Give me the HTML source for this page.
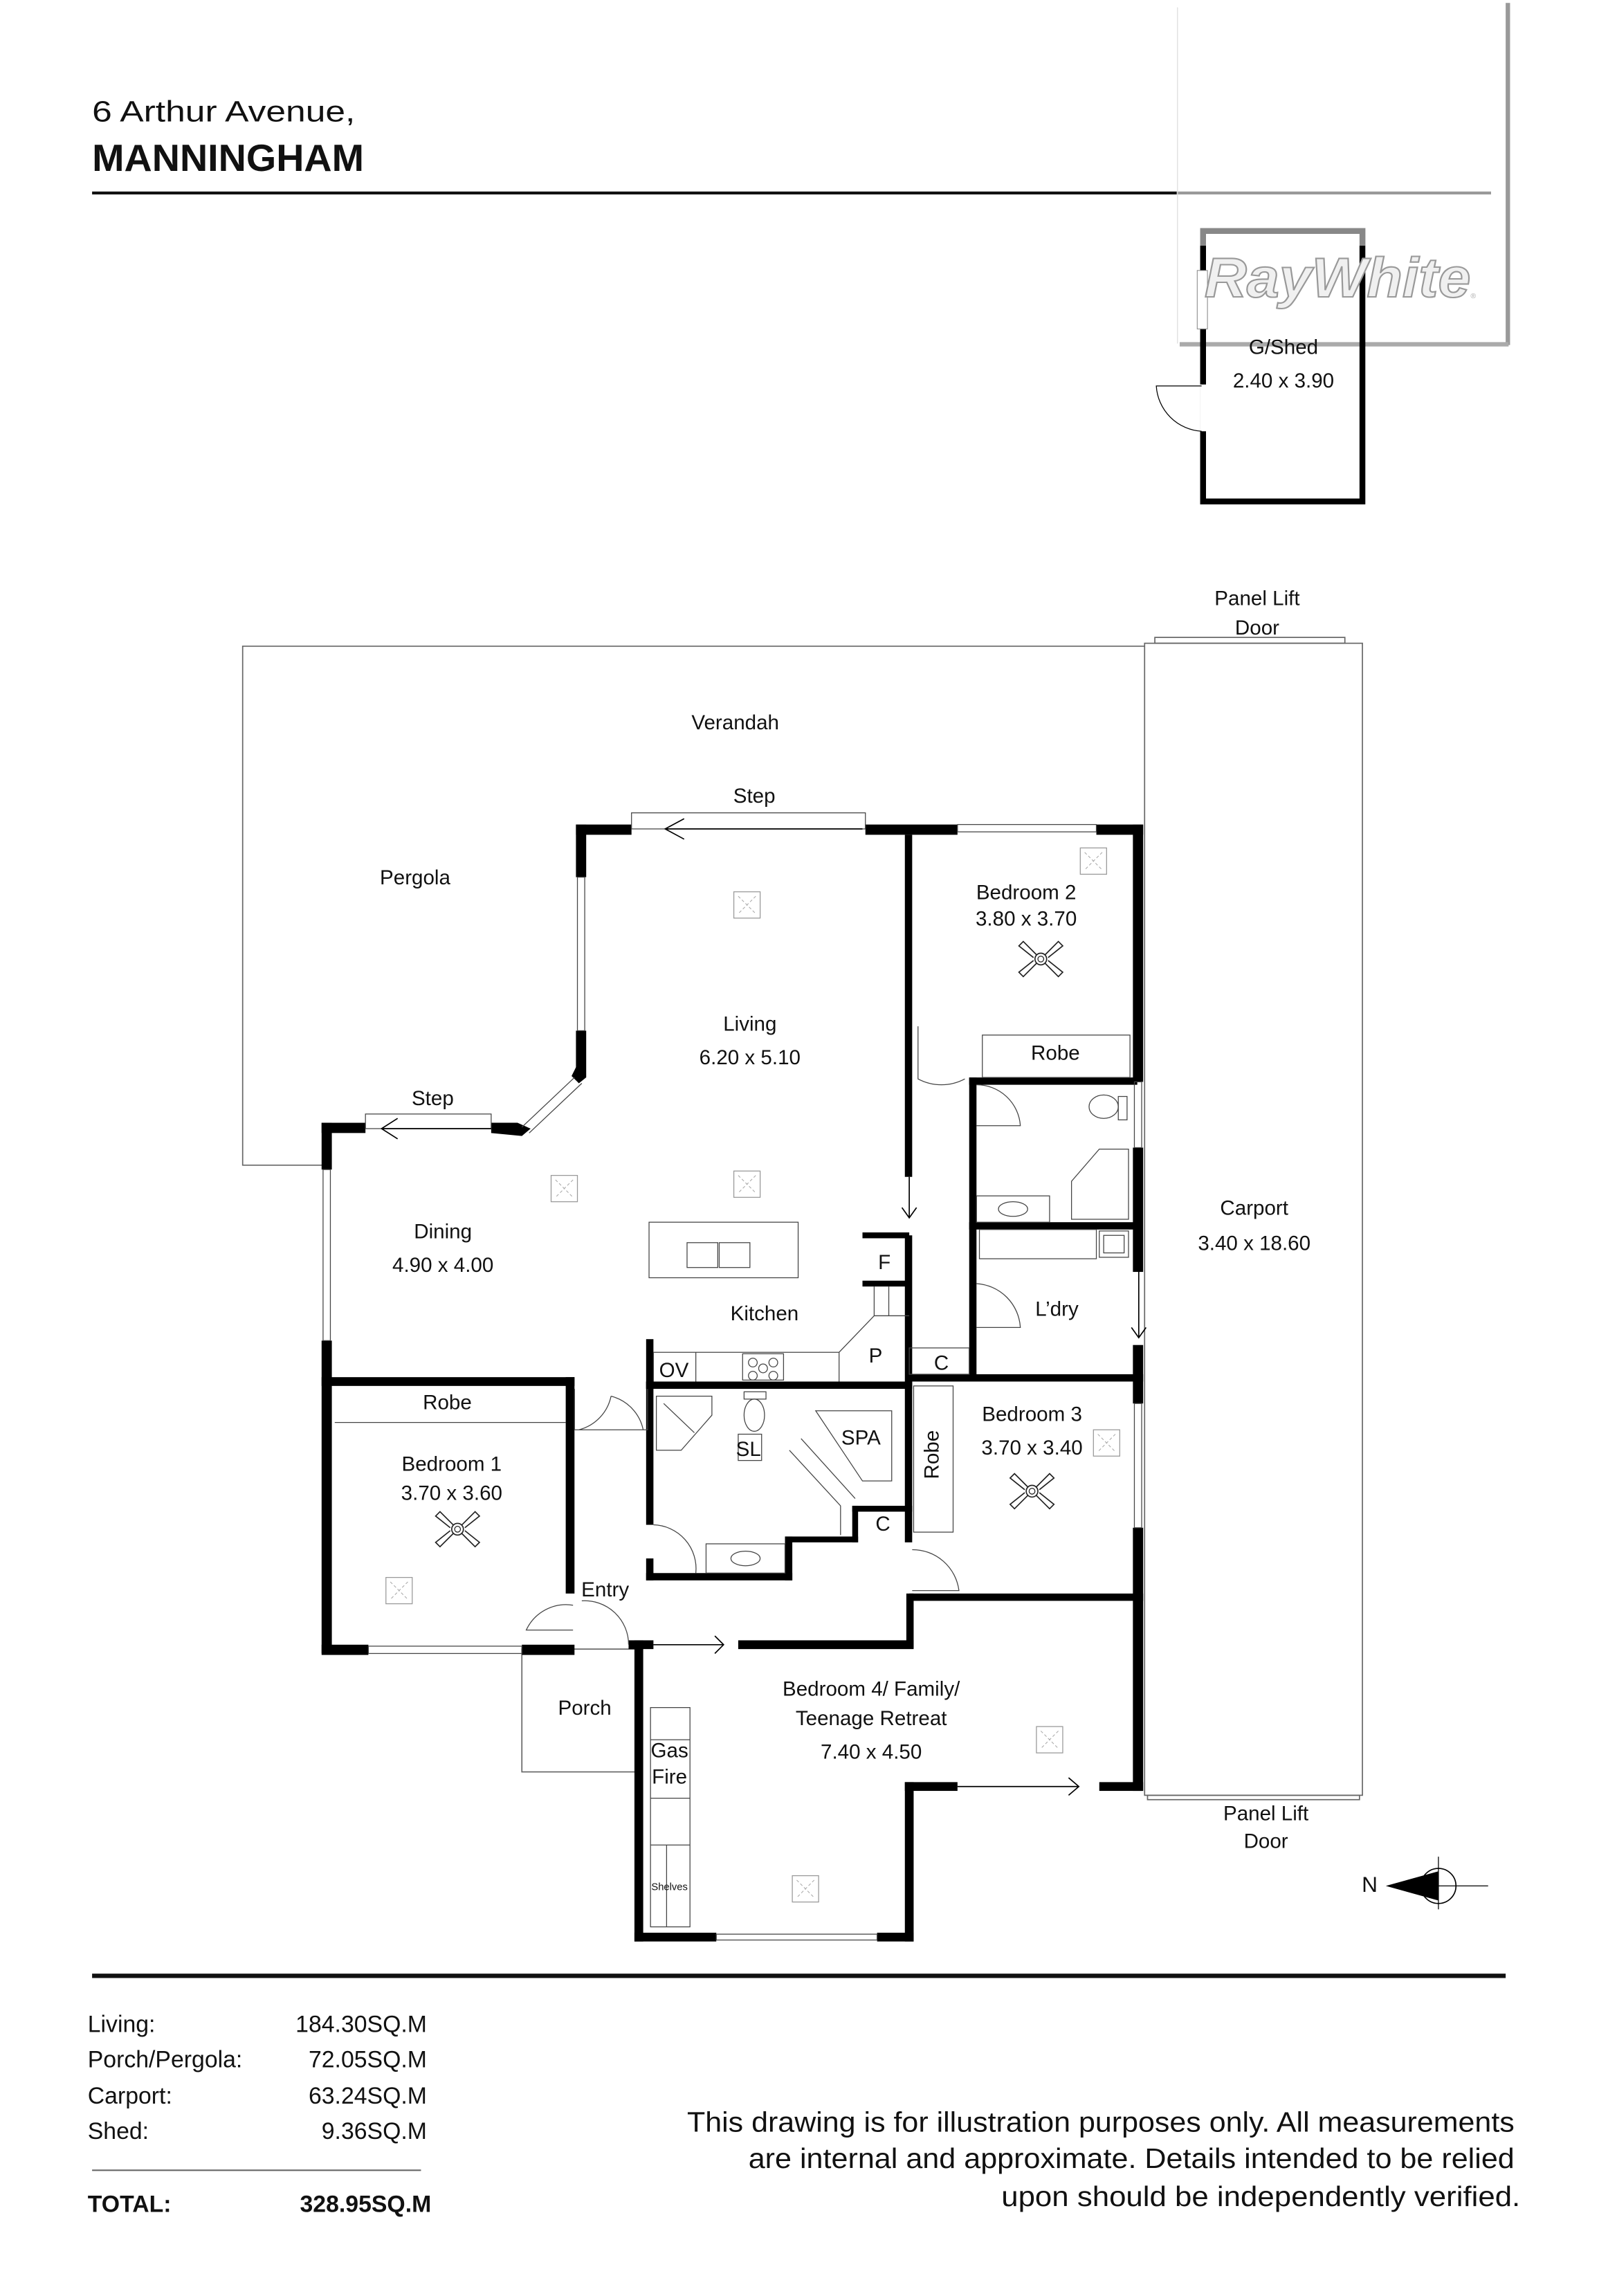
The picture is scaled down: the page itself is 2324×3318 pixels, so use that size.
<!DOCTYPE html>
<html><head><meta charset="utf-8"><style>
html,body{margin:0;padding:0;background:#fff;}
svg{display:block;}
text{font-family:"Liberation Sans",sans-serif;fill:#111;}
</style></head><body>
<svg width="2324" height="3318" viewBox="0 0 1100 1570.5" preserveAspectRatio="none" xmlns="http://www.w3.org/2000/svg">
<defs>
<g id="lt"><rect x="-9" y="-9" width="18" height="18" fill="none" stroke="#999" stroke-width="0.6"/><path d="M-6,-6L6,6M6,-6L-6,6" stroke="#aaa" stroke-width="0.5" stroke-dasharray="2,1.5"/></g>
<g id="fan"><circle r="4" fill="none" stroke="#222" stroke-width="0.8"/><circle r="2" fill="none" stroke="#222" stroke-width="0.6"/>
<g fill="none" stroke="#222" stroke-width="0.8"><path d="M3,-3L12,-12L15,-9L5,-1"/><path d="M-3,-3L-12,-12L-15,-9L-5,-1"/><path d="M3,3L12,12L15,9L5,1"/><path d="M-3,3L-12,12L-15,9L-5,1"/></g></g>
</defs>
<rect width="1100" height="1570.5" fill="#fff"/>
<!-- header -->
<text x="63" y="83" font-size="20" textLength="180" lengthAdjust="spacingAndGlyphs">6 Arthur Avenue,</text>
<text x="63" y="117" font-size="26" font-weight="bold" textLength="186" lengthAdjust="spacingAndGlyphs">MANNINGHAM</text>
<rect x="63" y="131" width="742" height="2" fill="#111"/>
<rect x="805" y="131" width="215" height="2" fill="#999"/>
<!-- logo box -->
<line x1="805.5" y1="5" x2="805.5" y2="235" stroke="#ddd" stroke-width="0.6"/>
<rect x="1030" y="2" width="3" height="234" fill="#999"/>
<rect x="807" y="234" width="225" height="3" fill="#aaa"/>
<!-- shed -->
<rect x="823" y="158" width="109" height="185" fill="none" stroke="#000" stroke-width="4"/>
<rect x="821" y="156" width="113" height="12" fill="#fff"/>
<path d="M823,168V158H932V168" fill="none" stroke="#888" stroke-width="4"/>
<rect x="821" y="263" width="5" height="32" fill="#fff"/>
<path d="M822,264H791A33,33 0 0 0 822,295" fill="none" stroke="#000" stroke-width="0.6"/>
<rect x="819" y="185" width="7" height="40" fill="#fff" stroke="#888" stroke-width="0.5"/>
<text x="824" y="203" font-size="38" font-style="italic" font-weight="bold" stroke="#999" stroke-width="1" style="fill:#f0f0f0" textLength="182" lengthAdjust="spacingAndGlyphs">RayWhite</text>
<text x="1006" y="204" font-size="5" style="fill:#aaa">®</text>
<text x="878" y="242" font-size="14" text-anchor="middle">G/Shed</text>
<text x="878" y="265" font-size="14" text-anchor="middle">2.40 x 3.90</text>
<!-- outer thin outlines -->
<g fill="none" stroke="#666" stroke-width="0.8">
<path d="M222,797H166V442H783"/>
<rect x="783" y="440" width="149" height="788"/>
<rect x="790" y="436" width="130" height="4"/>
<rect x="785" y="1228" width="145" height="3"/>
<rect x="357" y="1128" width="80" height="84"/>
</g>
<text x="860" y="414" font-size="14" text-anchor="middle">Panel Lift</text>
<text x="860" y="434" font-size="14" text-anchor="middle">Door</text>
<text x="866" y="1245" font-size="14" text-anchor="middle">Panel Lift</text>
<text x="866" y="1264" font-size="14" text-anchor="middle">Door</text>
<text x="503" y="499" font-size="14" text-anchor="middle">Verandah</text>
<text x="284" y="605" font-size="14" text-anchor="middle">Pergola</text>
<text x="516" y="549" font-size="14" text-anchor="middle">Step</text>
<text x="296" y="756" font-size="14" text-anchor="middle">Step</text>
<text x="858" y="831" font-size="14" text-anchor="middle">Carport</text>
<text x="858" y="855" font-size="14" text-anchor="middle">3.40 x 18.60</text>
<!-- thick walls -->
<g fill="#000">
<rect x="394" y="564" width="38" height="7"/>
<rect x="394" y="564" width="7" height="36"/>
<rect x="394" y="705" width="7" height="29"/>
<polygon points="394,730 401,734 401,737 396,741 391,736"/>
<polygon points="336,768 354,768 363,772 357,777 336,775"/>
<rect x="592" y="564" width="63" height="7"/>
<rect x="750" y="564" width="32" height="7"/>
<rect x="775" y="564" width="7" height="176"/>
<rect x="775" y="785" width="7" height="85"/>
<rect x="775" y="920" width="7" height="40"/>
<rect x="775" y="1045" width="7" height="180"/>
<rect x="220" y="768" width="30" height="7"/>
<rect x="220" y="768" width="7" height="32"/>
<rect x="220" y="917" width="7" height="214"/>
<rect x="220" y="942" width="173" height="6"/>
<rect x="387" y="942" width="6" height="148"/>
<rect x="220" y="1125" width="32" height="7"/>
<rect x="357" y="1125" width="36" height="7"/>
<rect x="619" y="571" width="5" height="234"/>
<rect x="619" y="845" width="5" height="210"/>
<rect x="590" y="843" width="32" height="4"/>
<rect x="590" y="876" width="32" height="4"/>
<rect x="442" y="916" width="5" height="34"/>
<rect x="442" y="945" width="182" height="5"/>
<rect x="442" y="945" width="5" height="98"/>
<rect x="442" y="1066" width="5" height="15"/>
<rect x="442" y="1076" width="100" height="5"/>
<rect x="537" y="1051" width="5" height="30"/>
<rect x="537" y="1051" width="50" height="4"/>
<rect x="583" y="1030" width="4" height="25"/>
<rect x="583" y="1030" width="41" height="4"/>
<rect x="663" y="737" width="5" height="205"/>
<rect x="663" y="737" width="115" height="5"/>
<rect x="663" y="836" width="115" height="5"/>
<rect x="622" y="940" width="160" height="5"/>
<rect x="622" y="1090" width="160" height="5"/>
<rect x="620" y="1090" width="5" height="37"/>
<rect x="505" y="1122" width="120" height="6"/>
<rect x="430" y="1122" width="17" height="6"/>
<rect x="434" y="1122" width="6" height="206"/>
<rect x="434" y="1322" width="56" height="6"/>
<rect x="600" y="1322" width="25" height="6"/>
<rect x="619" y="1219" width="6" height="109"/>
<rect x="619" y="1219" width="36" height="6"/>
<rect x="752" y="1219" width="30" height="6"/>
</g>
<!-- windows / thin -->
<g fill="none" stroke="#444" stroke-width="0.6">
<rect x="395" y="600" width="5" height="105"/>
<path d="M393,737L357,771M398,741L362,775"/>
<rect x="221" y="800" width="5" height="117"/>
<rect x="252" y="1126" width="105" height="5"/>
<rect x="655" y="564" width="95" height="5"/>
<rect x="776" y="740" width="5" height="45"/>
<rect x="776" y="960" width="5" height="85"/>
<rect x="490" y="1323" width="110" height="4"/>
<rect x="432" y="556" width="160" height="11"/>
<rect x="250" y="762" width="86" height="10"/>
<line x1="229" y1="973" x2="387" y2="973"/>
<rect x="672" y="708" width="101" height="29"/>
<rect x="625" y="948" width="27" height="100"/>
<rect x="622" y="922" width="41" height="18"/>
<rect x="444" y="836" width="102" height="38"/>
<rect x="470" y="850" width="21" height="17"/><rect x="492" y="850" width="21" height="17"/>
<path d="M447,925H574L598,900H622M574,925V945M598,880V900M608,880V900M447,925V945M476,925V945"/>
<rect x="508" y="926" width="28" height="18"/>
<circle cx="515" cy="932" r="3"/><circle cx="529" cy="932" r="3"/><circle cx="515" cy="941" r="3"/><circle cx="529" cy="941" r="3"/><circle cx="522" cy="936" r="3"/>
<path d="M449,955H487V968L466,992H449Z"/>
<line x1="454" y1="960" x2="475" y2="980"/>
<ellipse cx="516" cy="968" rx="7" ry="11"/><rect x="509" y="952" width="15" height="5"/>
<rect x="505" y="981" width="16" height="18"/>
<path d="M558,965H610V1013H590Z"/>
<path d="M540,992L575,1030V1050M548,984L585,1025"/>
<rect x="483" y="1056" width="54" height="20"/><ellipse cx="510" cy="1066" rx="10" ry="5"/>
<path d="M447,1043A30,30 0 0 1 476,1076"/>
<path d="M393,950V978H418M443,950V978H418M396,978A30,30 0 0 0 418,955M440,978A30,30 0 0 0 418,955"/>
<path d="M392,1098A30,30 0 0 0 360,1115H392M398,1095A30,30 0 0 1 430,1125"/>
<path d="M628,702V738A34,34 0 0 0 660,738"/>
<path d="M668,742A30,30 0 0 1 698,770H668"/>
<path d="M668,878A32,32 0 0 1 698,908H668"/>
<path d="M624,1060A32,32 0 0 1 656,1088H624"/>
<rect x="670" y="841" width="80" height="20"/>
<rect x="752" y="842" width="20" height="18"/><rect x="755" y="845" width="14" height="12"/>
<ellipse cx="755" cy="757" rx="10" ry="8"/><rect x="765" y="750" width="6" height="16"/>
<path d="M733,820V808L752,786H772V834H733Z"/>
<rect x="668" y="818" width="50" height="18"/><ellipse cx="693" cy="827" rx="10" ry="5"/>
<rect x="445" y="1168" width="27" height="150"/>
<line x1="445" y1="1190" x2="472" y2="1190"/><line x1="445" y1="1230" x2="472" y2="1230"/><line x1="445" y1="1262" x2="472" y2="1262"/>
<line x1="456" y1="1262" x2="456" y2="1318"/>
</g>
<!-- door arrows -->
<g fill="none" stroke="#000" stroke-width="0.8">
<path d="M590,567H455M468,560L455,567L468,574"/>
<path d="M336,772H261M272,765L261,772L272,779"/>
<path d="M622,805V833M617,826L622,833L627,826"/>
<path d="M779,870V915M774,908L779,915L784,908"/>
<path d="M447,1125H495M489,1119L495,1125L489,1131"/>
<path d="M655,1222H738M731,1216L738,1222L731,1228"/>
</g>
<!-- lights & fans -->
<use href="#lt" x="511" y="619"/><use href="#lt" x="511" y="810"/><use href="#lt" x="386" y="813"/>
<use href="#lt" x="748" y="589"/><use href="#lt" x="273" y="1088"/><use href="#lt" x="757" y="987"/>
<use href="#lt" x="718" y="1190"/><use href="#lt" x="551" y="1292"/>
<use href="#fan" x="712" y="656"/><use href="#fan" x="313" y="1046"/><use href="#fan" x="706" y="1020"/>
<!-- labels -->
<g font-size="14" text-anchor="middle">
<text x="513" y="705">Living</text><text x="513" y="728">6.20 x 5.10</text>
<text x="702" y="615">Bedroom 2</text><text x="702" y="633">3.80 x 3.70</text>
<text x="722" y="725">Robe</text>
<text x="303" y="847">Dining</text><text x="303" y="870">4.90 x 4.00</text>
<text x="523" y="903">Kitchen</text>
<text x="605" y="868">F</text><text x="599" y="932">P</text>
<text x="461" y="942">OV</text><text x="644" y="937">C</text>
<text x="723" y="900">L’dry</text>
<text x="306" y="964">Robe</text>
<text x="309" y="1006">Bedroom 1</text><text x="309" y="1026">3.70 x 3.60</text>
<text x="512" y="996">SL</text><text x="589" y="988">SPA</text>
<text x="604" y="1047">C</text>
<text x="706" y="972">Bedroom 3</text><text x="706" y="995">3.70 x 3.40</text>
<text x="642" y="995" transform="rotate(-90 642 995)">Robe</text>
<text x="414" y="1092">Entry</text>
<text x="400" y="1173">Porch</text>
<text x="596" y="1160">Bedroom 4/ Family/</text><text x="596" y="1180">Teenage Retreat</text><text x="596" y="1203">7.40 x 4.50</text>
<text x="458" y="1202">Gas</text><text x="458" y="1220">Fire</text>
<text x="458" y="1293" font-size="7">Shelves</text>
</g>
<!-- compass -->
<text x="937" y="1294" font-size="15" text-anchor="middle">N</text>
<polygon points="948,1290 984,1280 984,1300" fill="#000"/>
<circle cx="984" cy="1290" r="12" fill="none" stroke="#000" stroke-width="0.8"/>
<path d="M984,1270V1306M970,1290H1018" stroke="#000" stroke-width="0.6"/>
<!-- footer -->
<rect x="63" y="1350" width="967" height="3" fill="#111"/>
<g font-size="16">
<text x="60" y="1390">Living:</text><text x="292" y="1390" text-anchor="end">184.30SQ.M</text>
<text x="60" y="1414">Porch/Pergola:</text><text x="292" y="1414" text-anchor="end">72.05SQ.M</text>
<text x="60" y="1439">Carport:</text><text x="292" y="1439" text-anchor="end">63.24SQ.M</text>
<text x="60" y="1463">Shed:</text><text x="292" y="1463" text-anchor="end">9.36SQ.M</text>
</g>
<rect x="63" y="1484" width="225" height="1" fill="#666"/>
<text x="60" y="1513" font-size="16" font-weight="bold">TOTAL:</text>
<text x="295" y="1513" font-size="16" font-weight="bold" text-anchor="end">328.95SQ.M</text>
<g font-size="19.5">
<text x="470" y="1458" textLength="566" lengthAdjust="spacingAndGlyphs">This drawing is for illustration purposes only. All measurements</text>
<text x="512" y="1483" textLength="524" lengthAdjust="spacingAndGlyphs">are internal and approximate. Details intended to be relied</text>
<text x="685" y="1509" textLength="355" lengthAdjust="spacingAndGlyphs">upon should be independently verified.</text>
</g>
</svg>
</body></html>
